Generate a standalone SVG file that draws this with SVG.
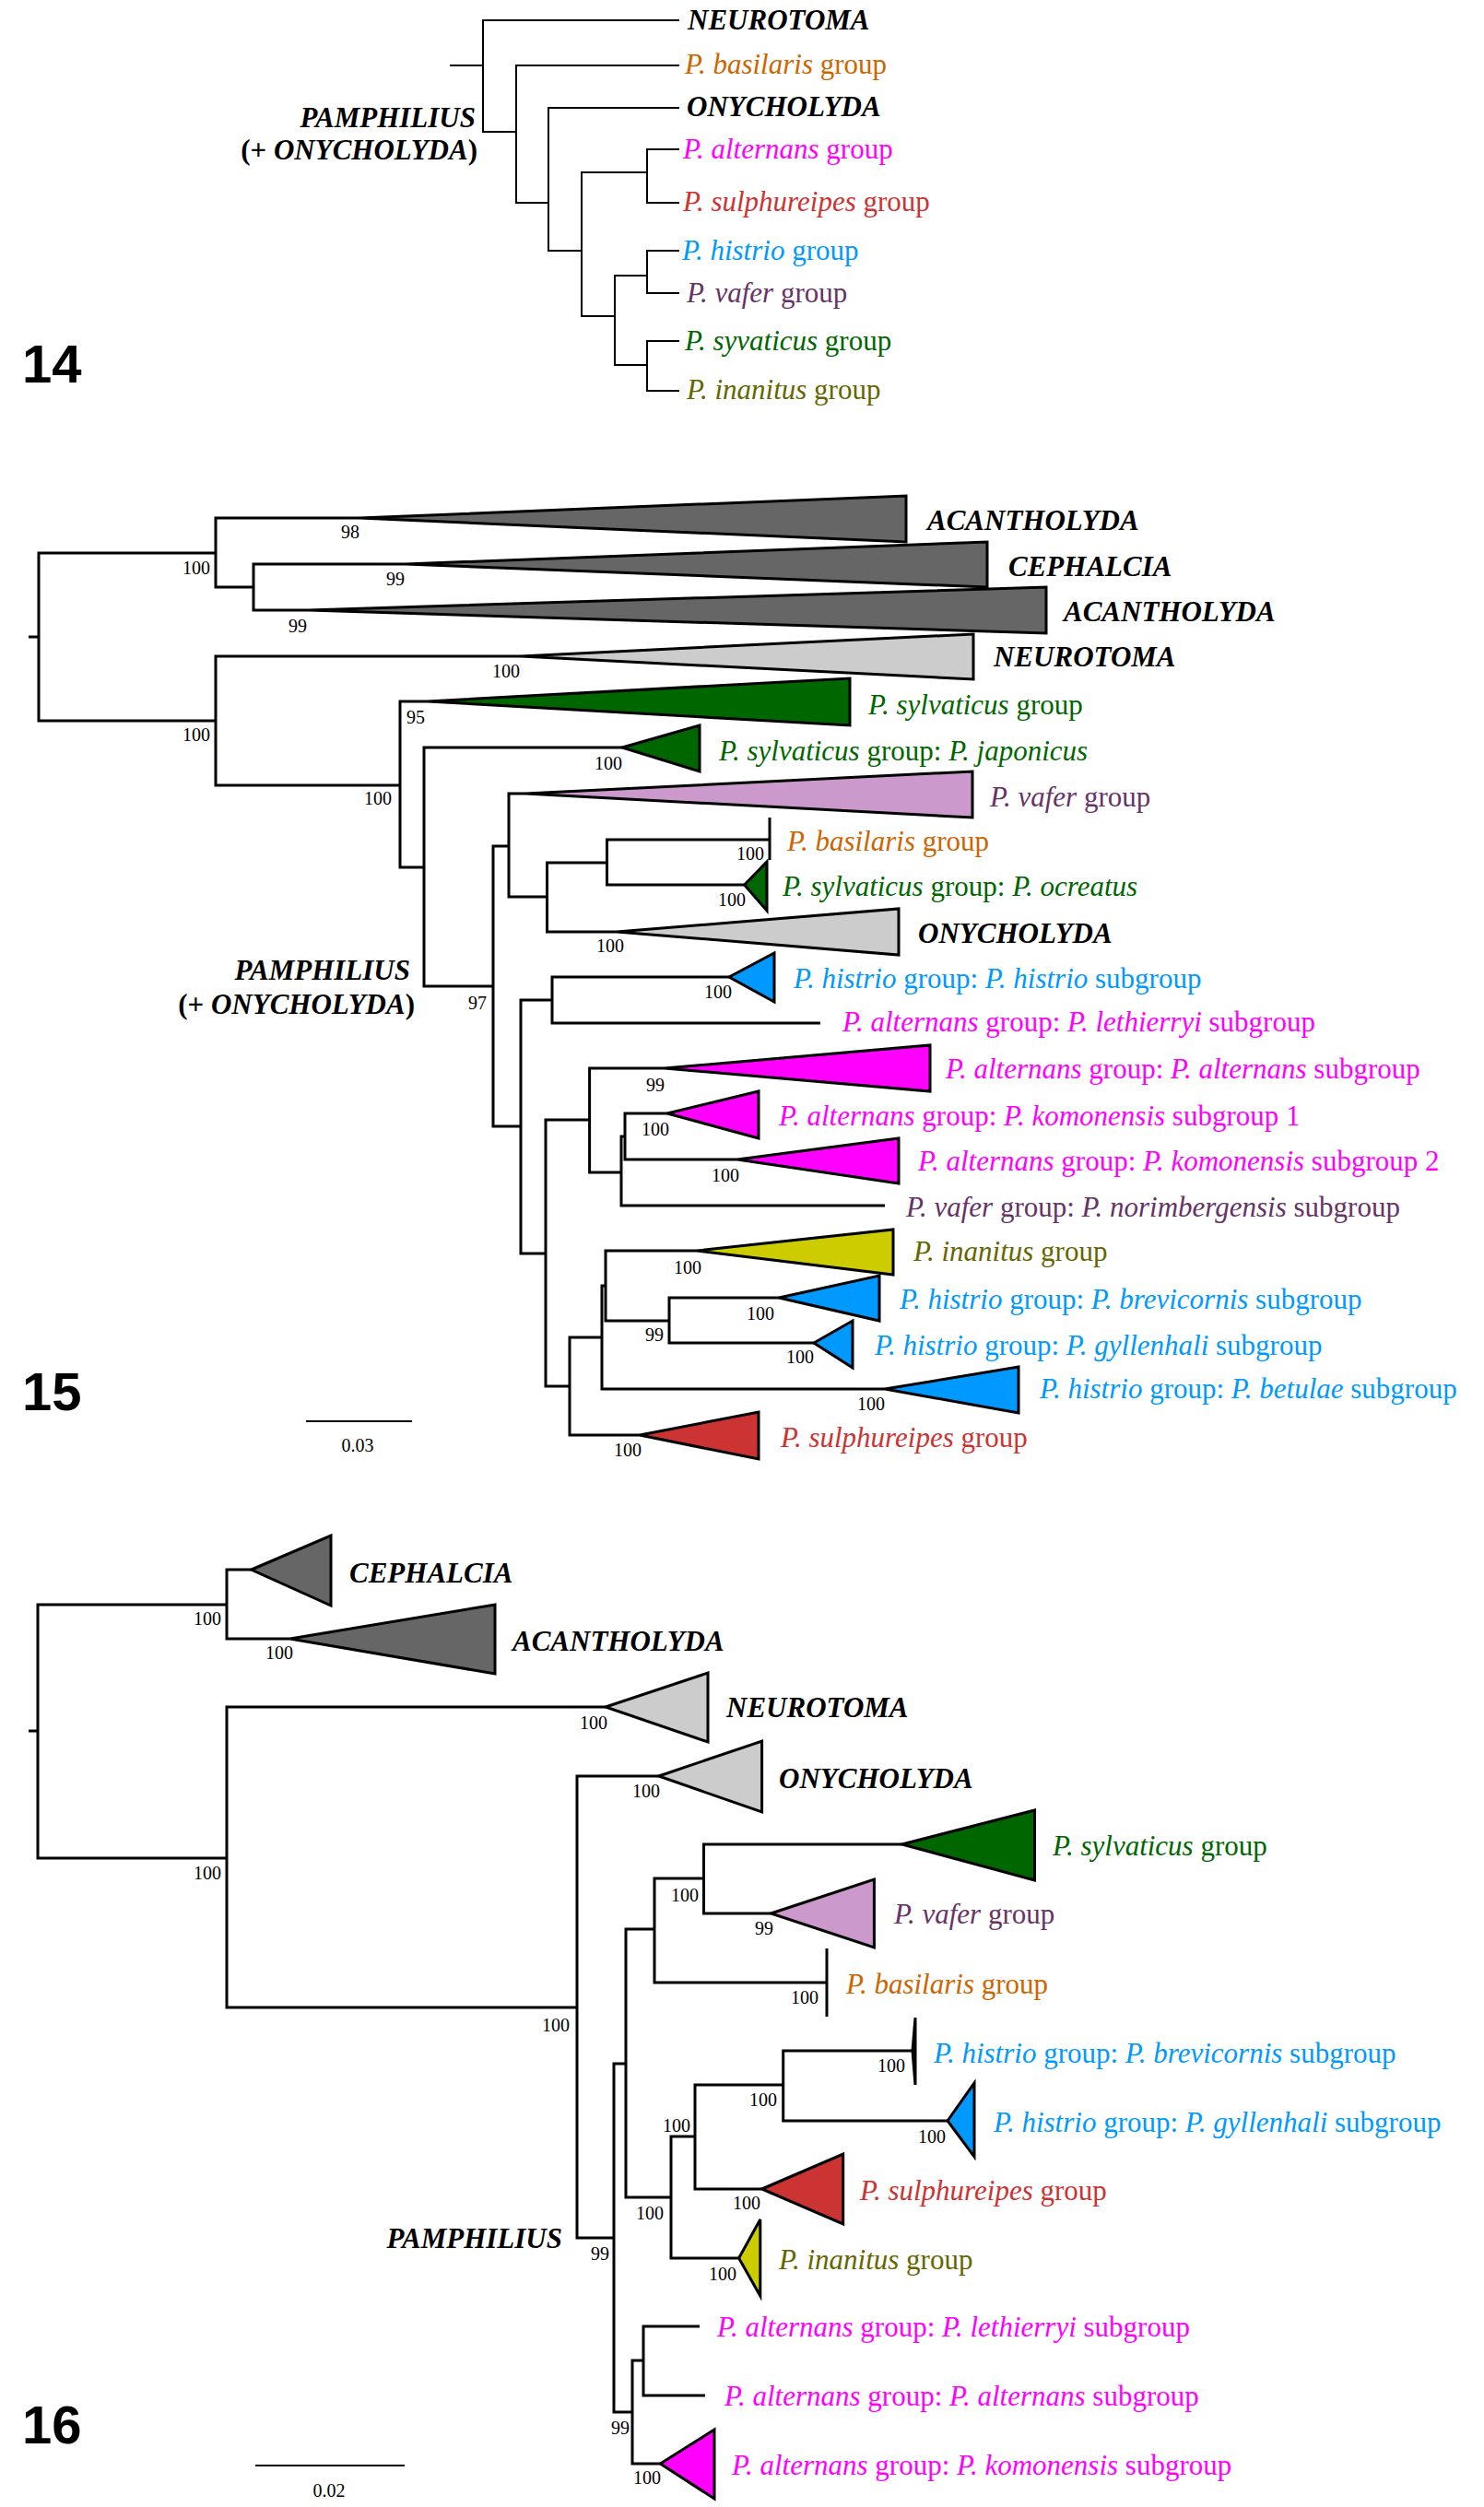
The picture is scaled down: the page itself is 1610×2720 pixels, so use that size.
<svg xmlns="http://www.w3.org/2000/svg" width="1610" height="2720" viewBox="0 0 1610 2720">
<style>
.ln{fill:none;stroke:#000;stroke-width:3;stroke-linejoin:miter}
.ln2{fill:none;stroke:#000;stroke-width:2;stroke-linejoin:miter}
.tri{stroke:#000;stroke-width:3;stroke-linejoin:miter}
.lab{font-family:"Liberation Serif","Times New Roman",serif;font-size:31px}
.bi{font-weight:bold;font-style:italic;fill:#000}
.i{font-style:italic}
.sup{font-family:"Liberation Serif","Times New Roman",serif;font-size:20px;text-anchor:end;fill:#000}
.sc{font-family:"Liberation Serif","Times New Roman",serif;font-size:20px;text-anchor:middle;fill:#000}
.num{font-family:"Liberation Sans",Arial,sans-serif;font-weight:bold;font-size:58px;fill:#000}
.dg{fill:#666666}.lg{fill:#cccccc}.gr{fill:#006600}.pk{fill:#cc99cc}.mg{fill:#ff00ff}.yl{fill:#cccc00}.bl{fill:#0099ff}.rd{fill:#cc3333}
.c-or{fill:#cc6600}.c-mg{fill:#ff00ff}.c-rd{fill:#cc3333}.c-bl{fill:#0099ff}.c-pu{fill:#663366}.c-gr{fill:#006600}.c-ol{fill:#666600}
</style>
<rect width="1610" height="2720" fill="#ffffff"/>

<!-- ===== PANEL 14 ===== -->
<g id="connectors-14">
<path class="ln2" d="M488 71 H524"/>
<path class="ln2" d="M737 22 H524 V143 H560"/>
<path class="ln2" d="M737 71 H560 V220 H595"/>
<path class="ln2" d="M737 117 H595 V272 H631"/>
<path class="ln2" d="M702 187 H631 V343 H667"/>
<path class="ln2" d="M737 162 H702 V220 H737"/>
<path class="ln2" d="M702 299 H667 V396 H702"/>
<path class="ln2" d="M737 272 H702 V318 H737"/>
<path class="ln2" d="M737 370 H702 V424 H737"/>
</g>
<g id="p14-neurotoma"><text class="lab bi" x="746" y="32">NEUROTOMA</text></g>
<g id="p14-basilaris"><text class="lab c-or" x="743" y="80"><tspan class="i">P. basilaris</tspan> group</text></g>
<g id="p14-onycholyda"><text class="lab bi" x="745" y="126">ONYCHOLYDA</text></g>
<g id="p14-alternans"><text class="lab c-mg" x="741" y="172"><tspan class="i">P. alternans</tspan> group</text></g>
<g id="p14-sulphureipes"><text class="lab c-rd" x="741" y="229"><tspan class="i">P. sulphureipes</tspan> group</text></g>
<g id="p14-histrio"><text class="lab c-bl" x="740" y="282"><tspan class="i">P. histrio</tspan> group</text></g>
<g id="p14-vafer"><text class="lab c-pu" x="745" y="328"><tspan class="i">P. vafer</tspan> group</text></g>
<g id="p14-syvaticus"><text class="lab c-gr" x="743" y="380"><tspan class="i">P. syvaticus</tspan> group</text></g>
<g id="p14-inanitus"><text class="lab c-ol" x="745" y="433"><tspan class="i">P. inanitus</tspan> group</text></g>
<g id="p14-pamphilius">
<text class="lab bi" x="516" y="138" text-anchor="end">PAMPHILIUS</text>
<text class="lab" x="518" y="173" text-anchor="end" font-weight="bold">(+ <tspan class="i">ONYCHOLYDA</tspan>)</text>
</g>
<text class="num" x="24" y="415">14</text>

<!-- ===== PANEL 15 ===== -->
<g id="connectors-15">
<path class="ln" d="M234 600 H42 V782 H234"/>
<path class="ln" d="M31 691 H42"/>
<path class="ln" d="M390 562 H234 V637 H275"/>
<path class="ln" d="M440 612 H275 V662 H335"/>
<path class="ln" d="M565 712 H234 V852 H434"/>
<path class="ln" d="M464 761 H434 V941 H460"/>
<path class="ln" d="M675 811 H460 V1070 H535"/>
<path class="ln" d="M552 918 H535 V1222 H565"/>
<path class="ln" d="M570 861 H552 V973 H593.5"/>
<path class="ln" d="M658.5 936 H593.5 V1011 H669"/>
<path class="ln" d="M835 911 H658.5 V960 H807.6"/>
<path class="ln" d="M835 887 V933"/>
<path class="ln" d="M599 1085 H565 V1360 H592"/>
<path class="ln" d="M791 1060 H599 V1110 H890"/>
<path class="ln" d="M639.6 1215 H592 V1504 H618"/>
<path class="ln" d="M721 1159 H639.6 V1272 H674"/>
<path class="ln" d="M678 1233 H674 V1308 H960"/>
<path class="ln" d="M724 1208 H678 V1258 H800"/>
<path class="ln" d="M653 1451 H618 V1557 H694"/>
<path class="ln" d="M657 1395 H653 V1507 H960"/>
<path class="ln" d="M756 1357 H657 V1433 H726"/>
<path class="ln" d="M845 1408 H726 V1457 H883"/>
</g>
<g id="p15-support">
<text class="sup" x="390" y="584">98</text>
<text class="sup" x="228" y="623">100</text>
<text class="sup" x="439" y="635">99</text>
<text class="sup" x="333" y="686">99</text>
<text class="sup" x="564" y="735">100</text>
<text class="sup" x="461" y="785">95</text>
<text class="sup" x="228" y="804">100</text>
<text class="sup" x="675" y="835">100</text>
<text class="sup" x="425" y="873">100</text>
<text class="sup" x="829" y="933">100</text>
<text class="sup" x="809" y="983">100</text>
<text class="sup" x="677" y="1033">100</text>
<text class="sup" x="794" y="1083">100</text>
<text class="sup" x="528" y="1095">97</text>
<text class="sup" x="721" y="1184">99</text>
<text class="sup" x="726" y="1232">100</text>
<text class="sup" x="802" y="1282">100</text>
<text class="sup" x="761" y="1382">100</text>
<text class="sup" x="840" y="1432">100</text>
<text class="sup" x="720" y="1455">99</text>
<text class="sup" x="883" y="1479">100</text>
<text class="sup" x="960" y="1530">100</text>
<text class="sup" x="696" y="1580">100</text>
</g>
<g id="p15-acantholyda1"><polygon class="tri dg" points="390,562 983,538 983,588"/><text class="lab bi" x="1006" y="575">ACANTHOLYDA</text></g>
<g id="p15-cephalcia"><polygon class="tri dg" points="440,612 1071,588 1071,637"/><text class="lab bi" x="1094" y="625">CEPHALCIA</text></g>
<g id="p15-acantholyda2"><polygon class="tri dg" points="335,662 1135,637 1135,687"/><text class="lab bi" x="1154" y="674">ACANTHOLYDA</text></g>
<g id="p15-neurotoma"><polygon class="tri lg" points="565,712 1056,688 1056,737"/><text class="lab bi" x="1078" y="723">NEUROTOMA</text></g>
<g id="p15-sylvaticus"><polygon class="tri gr" points="464,761 922,736 922,787"/><text class="lab c-gr" x="942" y="775"><tspan class="i">P. sylvaticus</tspan> group</text></g>
<g id="p15-japonicus"><polygon class="tri gr" points="675,811 759,787 759,837"/><text class="lab c-gr" x="780" y="825"><tspan class="i">P. sylvaticus</tspan> group: <tspan class="i">P. japonicus</tspan></text></g>
<g id="p15-vafer"><polygon class="tri pk" points="570,861 1055,837 1055,887"/><text class="lab c-pu" x="1074" y="875"><tspan class="i">P. vafer</tspan> group</text></g>
<g id="p15-basilaris"><text class="lab c-or" x="854" y="923"><tspan class="i">P. basilaris</tspan> group</text></g>
<g id="p15-ocreatus"><polygon class="tri gr" points="807.6,960 832,935 832,988"/><text class="lab c-gr" x="849" y="972"><tspan class="i">P. sylvaticus</tspan> group: <tspan class="i">P. ocreatus</tspan></text></g>
<g id="p15-onycholyda"><polygon class="tri lg" points="669,1011 975,986 975,1036"/><text class="lab bi" x="996" y="1023">ONYCHOLYDA</text></g>
<g id="p15-histrio"><polygon class="tri bl" points="791,1060 840,1034 840,1087"/><text class="lab c-bl" x="861" y="1072"><tspan class="i">P. histrio</tspan> group: <tspan class="i">P. histrio</tspan> subgroup</text></g>
<g id="p15-lethierryi"><text class="lab c-mg" x="914" y="1119"><tspan class="i">P. alternans</tspan> group: <tspan class="i">P. lethierryi</tspan> subgroup</text></g>
<g id="p15-alternans"><polygon class="tri mg" points="721,1159 1009,1134 1009,1184"/><text class="lab c-mg" x="1026" y="1170"><tspan class="i">P. alternans</tspan> group: <tspan class="i">P. alternans</tspan> subgroup</text></g>
<g id="p15-komonensis1"><polygon class="tri mg" points="724,1208 823,1184 823,1235"/><text class="lab c-mg" x="845" y="1221"><tspan class="i">P. alternans</tspan> group: <tspan class="i">P. komonensis</tspan> subgroup 1</text></g>
<g id="p15-komonensis2"><polygon class="tri mg" points="800,1258 975,1235 975,1284"/><text class="lab c-mg" x="996" y="1270"><tspan class="i">P. alternans</tspan> group: <tspan class="i">P. komonensis</tspan> subgroup 2</text></g>
<g id="p15-norimbergensis"><text class="lab c-pu" x="983" y="1320"><tspan class="i">P. vafer</tspan> group: <tspan class="i">P. norimbergensis</tspan> subgroup</text></g>
<g id="p15-inanitus"><polygon class="tri yl" points="756,1357 969,1334 969,1383"/><text class="lab c-ol" x="991" y="1368"><tspan class="i">P. inanitus</tspan> group</text></g>
<g id="p15-brevicornis"><polygon class="tri bl" points="845,1408 954,1384 954,1433"/><text class="lab c-bl" x="976" y="1420"><tspan class="i">P. histrio</tspan> group: <tspan class="i">P. brevicornis</tspan> subgroup</text></g>
<g id="p15-gyllenhali"><polygon class="tri bl" points="883,1457 925,1433 925,1484"/><text class="lab c-bl" x="949" y="1470"><tspan class="i">P. histrio</tspan> group: <tspan class="i">P. gyllenhali</tspan> subgroup</text></g>
<g id="p15-betulae"><polygon class="tri bl" points="960,1507 1105,1483 1105,1533"/><text class="lab c-bl" x="1128" y="1517"><tspan class="i">P. histrio</tspan> group: <tspan class="i">P. betulae</tspan> subgroup</text></g>
<g id="p15-sulphureipes"><polygon class="tri rd" points="694,1557 823,1532 823,1583"/><text class="lab c-rd" x="847" y="1570"><tspan class="i">P. sulphureipes</tspan> group</text></g>
<g id="p15-pamphilius">
<text class="lab bi" x="445" y="1063" text-anchor="end">PAMPHILIUS</text>
<text class="lab" x="450" y="1100" text-anchor="end" font-weight="bold">(+ <tspan class="i">ONYCHOLYDA</tspan>)</text>
</g>
<g id="p15-scale"><path class="ln2" d="M332 1542 H447"/><text class="sc" x="388" y="1575">0.03</text></g>
<text class="num" x="24" y="1530">15</text>

<!-- ===== PANEL 16 ===== -->
<g id="connectors-16">
<path class="ln" d="M246 1741 H41 V2016 H246"/>
<path class="ln" d="M31 1878 H41"/>
<path class="ln" d="M272.7 1703 H246 V1778 H314.6"/>
<path class="ln" d="M657 1852 H246 V2178 H626"/>
<path class="ln" d="M714.7 1927 H626 V2428 H666"/>
<path class="ln" d="M679 2239 H666 V2617 H686"/>
<path class="ln" d="M710 2093 H679 V2384 H728"/>
<path class="ln" d="M763.5 2038 H710 V2151 H897"/>
<path class="ln" d="M897 2114 V2188"/>
<path class="ln" d="M978.6 2001 H763.5 V2076 H836.4"/>
<path class="ln" d="M754 2318 H728 V2450 H801.6"/>
<path class="ln" d="M849.7 2262 H754 V2375 H826.5"/>
<path class="ln" d="M990 2225 H849.7 V2301 H1028"/>
<path class="ln" d="M698 2561 H686 V2673 H716.4"/>
<path class="ln" d="M759 2524 H698 V2599 H765"/>
</g>
<g id="p16-support">
<text class="sup" x="240" y="1763">100</text>
<text class="sup" x="318" y="1800">100</text>
<text class="sup" x="659" y="1876">100</text>
<text class="sup" x="716" y="1950">100</text>
<text class="sup" x="240" y="2039">100</text>
<text class="sup" x="758" y="2063">100</text>
<text class="sup" x="839" y="2099">99</text>
<text class="sup" x="888" y="2174">100</text>
<text class="sup" x="618" y="2204">100</text>
<text class="sup" x="982" y="2248">100</text>
<text class="sup" x="843" y="2285">100</text>
<text class="sup" x="749" y="2313">100</text>
<text class="sup" x="1026" y="2325">100</text>
<text class="sup" x="825" y="2397">100</text>
<text class="sup" x="720" y="2408">100</text>
<text class="sup" x="661" y="2452">99</text>
<text class="sup" x="799" y="2474">100</text>
<text class="sup" x="683" y="2641">99</text>
<text class="sup" x="717" y="2695">100</text>
</g>
<g id="p16-cephalcia"><polygon class="tri dg" points="272.7,1703 359,1666 359,1742"/><text class="lab bi" x="379" y="1717">CEPHALCIA</text></g>
<g id="p16-acantholyda"><polygon class="tri dg" points="314.6,1778 537,1741 537,1816"/><text class="lab bi" x="556" y="1791">ACANTHOLYDA</text></g>
<g id="p16-neurotoma"><polygon class="tri lg" points="657,1852 768,1815 768,1890"/><text class="lab bi" x="788" y="1863">NEUROTOMA</text></g>
<g id="p16-onycholyda"><polygon class="tri lg" points="714.7,1927 826.6,1889 826.6,1966"/><text class="lab bi" x="845" y="1940">ONYCHOLYDA</text></g>
<g id="p16-sylvaticus"><polygon class="tri gr" points="978.6,2001 1122.5,1964 1122.5,2040"/><text class="lab c-gr" x="1142" y="2013"><tspan class="i">P. sylvaticus</tspan> group</text></g>
<g id="p16-vafer"><polygon class="tri pk" points="836.4,2076 948.4,2039 948.4,2113"/><text class="lab c-pu" x="970" y="2087"><tspan class="i">P. vafer</tspan> group</text></g>
<g id="p16-basilaris"><text class="lab c-or" x="918" y="2163"><tspan class="i">P. basilaris</tspan> group</text></g>
<g id="p16-brevicornis"><polygon class="tri bl" points="990,2225 993,2189 993,2262"/><text class="lab c-bl" x="1013" y="2238"><tspan class="i">P. histrio</tspan> group: <tspan class="i">P. brevicornis</tspan> subgroup</text></g>
<g id="p16-gyllenhali"><polygon class="tri bl" points="1028,2301 1057,2260 1057,2340"/><text class="lab c-bl" x="1078" y="2313"><tspan class="i">P. histrio</tspan> group: <tspan class="i">P. gyllenhali</tspan> subgroup</text></g>
<g id="p16-sulphureipes"><polygon class="tri rd" points="826.5,2375 914.7,2337 914.7,2413"/><text class="lab c-rd" x="933" y="2387"><tspan class="i">P. sulphureipes</tspan> group</text></g>
<g id="p16-inanitus"><polygon class="tri yl" points="801.6,2450 824.8,2408 824.8,2491"/><text class="lab c-ol" x="845" y="2462"><tspan class="i">P. inanitus</tspan> group</text></g>
<g id="p16-lethierryi"><text class="lab c-mg" x="778" y="2535"><tspan class="i">P. alternans</tspan> group: <tspan class="i">P. lethierryi</tspan> subgroup</text></g>
<g id="p16-alternans"><text class="lab c-mg" x="786" y="2610"><tspan class="i">P. alternans</tspan> group: <tspan class="i">P. alternans</tspan> subgroup</text></g>
<g id="p16-komonensis"><polygon class="tri mg" points="716.4,2673 775,2636 775,2711"/><text class="lab c-mg" x="794" y="2685"><tspan class="i">P. alternans</tspan> group: <tspan class="i">P. komonensis</tspan> subgroup</text></g>
<g id="p16-pamphilius"><text class="lab bi" x="610" y="2439" text-anchor="end">PAMPHILIUS</text></g>
<g id="p16-scale"><path class="ln2" d="M277 2675 H439"/><text class="sc" x="357" y="2709">0.02</text></g>
<text class="num" x="24" y="2651">16</text>
</svg>
